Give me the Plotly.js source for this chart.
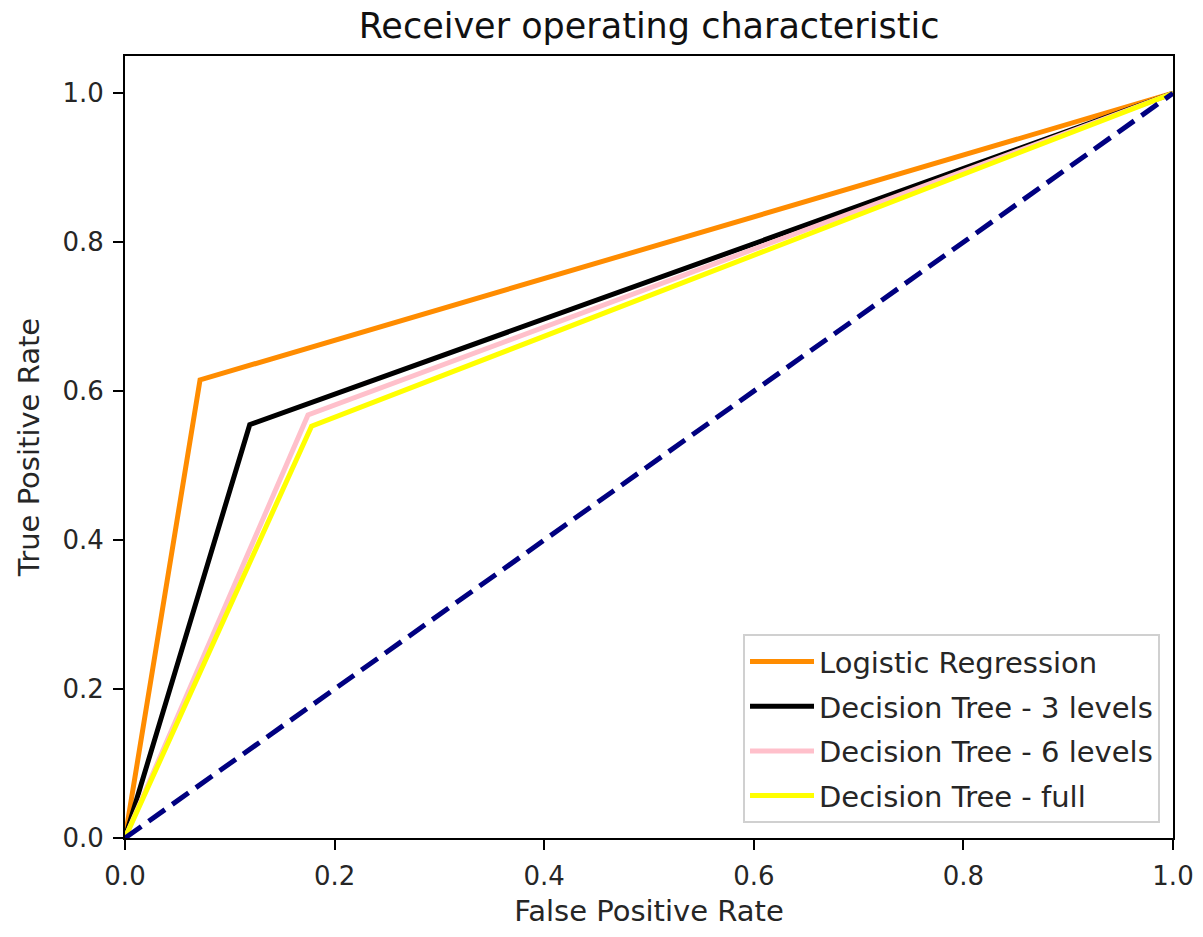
<!DOCTYPE html>
<html><head><meta charset="utf-8">
<script src="https://cdn.plot.ly/plotly-3.0.1.min.js"></script>
<style>body{margin:0;background:#fff}#c{width:1203px;height:937px}</style>
</head><body><div id="c"></div>
<script>
const seriesNames = ["Logistic Regression", "Decision Tree - 3 levels", "Decision Tree - 6 levels", "Decision Tree - full"];
const seriesColors = ["#ff8c00", "#000000", "#ffc0cb", "#ffff00"];
const fprLogistic = [0, 0.0716, 1];
const tprLogistic = [0, 0.615, 1];
const fprTree3 = [0, 0.119, 1];
const tprTree3 = [0, 0.555, 1];
const fprTree6 = [0, 0.1746, 1];
const tprTree6 = [0, 0.568, 1];
const fprTreeFull = [0, 0.178, 1];
const tprTreeFull = [0, 0.553, 1];
const chanceX = [0, 1];
const chanceY = [0, 1];
const tickVals = [0, 0.2, 0.4, 0.6, 0.8, 1.0];
const tickText = ["0.0", "0.2", "0.4", "0.6", "0.8", "1.0"];

const xs = [fprLogistic, fprTree3, fprTree6, fprTreeFull];
const ys = [tprLogistic, tprTree3, tprTree6, tprTreeFull];
const traces = xs.map((x, i) => ({
  x: x, y: ys[i], type: "scatter", mode: "lines", name: seriesNames[i],
  legendgroup: "g" + i,
  line: {color: seriesColors[i], width: 5}
}));
traces.push({x: chanceX, y: chanceY, type: "scatter", mode: "lines", showlegend: false,
  line: {color: "#000080", width: 5, dash: "20px,9px"}});

const font = {family: "DejaVu Sans", size: 29, color: "#262626"};
const tfont = {family: "DejaVu Sans", size: 26, color: "#262626"};
const layout = {
  width: 1203, height: 937,
  margin: {l: 125, r: 30, t: 56, b: 99},
  paper_bgcolor: "#fff", plot_bgcolor: "#fff",
  font: font,
  title: {text: "Receiver operating characteristic", font: {family: "DejaVu Sans", size: 35, color: "#111"}, x: 0.5395, xanchor: "center", y: 0.973, yanchor: "middle"},
  xaxis: {range: [0, 1], tickvals: tickVals, ticktext: tickText, ticks: "outside", ticklen: 10, tickwidth: 2, tickcolor: "#000",
    showline: true, mirror: true, linecolor: "#000", linewidth: 2, showgrid: false, zeroline: false, ticklabelstandoff: 4,
    title: {text: "False Positive Rate", font: font, standoff: 10}, tickfont: tfont},
  yaxis: {range: [0, 1.05], tickvals: tickVals, ticktext: tickText, ticks: "outside", ticklen: 10, tickwidth: 2, tickcolor: "#000",
    showline: true, mirror: true, linecolor: "#000", linewidth: 2, showgrid: false, zeroline: false, ticklabelstandoff: 4,
    title: {text: "True Positive Rate", font: font, standoff: 14}, tickfont: tfont},
  legend: {x: 0.9876, y: 0.019, xanchor: "right", yanchor: "bottom", bgcolor: "rgba(255,255,255,0.8)",
    bordercolor: "#d0d0d0", borderwidth: 2, font: font, itemwidth: 64, tracegroupgap: 4},
  showlegend: true
};
Plotly.newPlot("c", traces, layout, {displayModeBar: false, staticPlot: true});
</script></body></html>
